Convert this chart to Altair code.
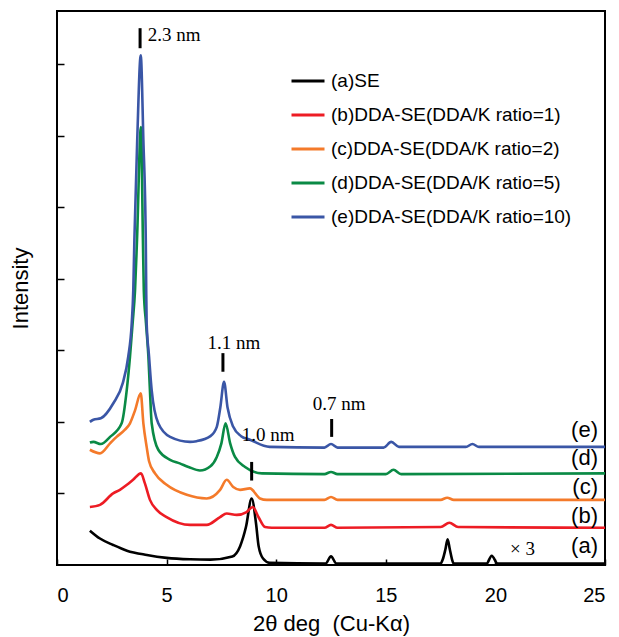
import altair as alt
import pandas as pd

series_names = ["(a)SE", "(b)DDA-SE(DDA/K ratio=1)", "(c)DDA-SE(DDA/K ratio=2)",
                "(d)DDA-SE(DDA/K ratio=5)", "(e)DDA-SE(DDA/K ratio=10)"]
series_colors = ["#000000", "#ED1C24", "#F47A2A", "#0A8A45", "#3A56A6"]

a_x = [1.5, 1.96, 2.56, 3.19, 4.1, 5.0, 6.07, 7.0, 8.0, 8.35, 8.62, 8.88, 9.08, 9.2, 9.4, 9.7,
       12.25, 12.5, 12.75, 17.5, 17.6, 17.72, 17.82, 17.92, 18.02, 18.1, 19.6, 19.83, 20.1, 25.0]
a_y = [0.48, 0.37, 0.28, 0.20, 0.14, 0.10, 0.08, 0.075, 0.12, 0.26, 0.53, 0.93, 0.58, 0.26, 0.09, 0.03,
       0.02, 0.12, 0.02, 0.02, 0.08, 0.22, 0.36, 0.22, 0.08, 0.02, 0.02, 0.13, 0.02, 0.02]

b_x = [1.5, 1.96, 2.56, 2.87, 3.19, 3.47, 3.83, 4.01, 4.24, 4.55, 5.0, 6.07, 6.83, 7.44, 7.74, 8.2,
       8.65, 8.93, 9.19, 9.49, 9.8, 12.2, 12.5, 12.8, 17.5, 17.9, 18.3, 25.0]
b_y = [0.81, 0.84, 1.0, 1.05, 1.12, 1.19, 1.28, 1.14, 0.91, 0.77, 0.67, 0.56, 0.56, 0.67, 0.72, 0.70,
       0.74, 0.81, 0.67, 0.53, 0.52, 0.52, 0.56, 0.52, 0.53, 0.59, 0.53, 0.52]

c_x = [1.5, 1.96, 2.42, 2.72, 3.10, 3.33, 3.56, 3.82, 3.94, 4.09, 4.2, 4.47, 5.0, 5.92, 6.83, 7.44,
       7.74, 8.04, 8.35, 8.8, 9.26, 9.57, 12.2, 12.5, 12.8, 17.5, 17.8, 18.1, 25.0]
c_y = [1.61, 1.56, 1.70, 1.79, 1.89, 1.98, 2.16, 2.40, 1.98, 1.65, 1.45, 1.28, 1.12, 0.98, 0.93, 1.05,
       1.19, 1.09, 1.05, 1.07, 0.93, 0.91, 0.91, 0.95, 0.91, 0.91, 0.94, 0.91, 0.91]

d_x = [1.5, 1.66, 2.0, 2.42, 2.95, 3.18, 3.33, 3.45, 3.56, 3.65, 3.83, 3.92, 3.96, 4.06, 4.17, 4.24,
       4.32, 4.62, 5.16, 5.6, 6.0, 6.52, 7.0, 7.29, 7.5, 7.69, 7.9, 8.12, 8.58, 9.35, 12.2, 12.5, 12.8,
       15.0, 15.35, 15.7, 25.0]
d_y = [1.71, 1.72, 1.69, 1.79, 1.98, 2.44, 2.91, 3.38, 3.84, 4.54, 6.12, 4.54, 3.84, 3.38, 2.91, 2.44,
       1.98, 1.61, 1.47, 1.42, 1.37, 1.32, 1.38, 1.51, 1.70, 1.98, 1.70, 1.51, 1.37, 1.28, 1.27, 1.30, 1.27,
       1.27, 1.33, 1.27, 1.28]

e_x = [1.5, 1.66, 2.0, 2.57, 3.0, 3.25, 3.41, 3.48, 3.53, 3.66, 3.82, 3.94, 4.05, 4.07, 4.09, 4.2,
       4.32, 4.62, 5.16, 6.07, 6.37, 7.0, 7.29, 7.45, 7.62, 7.78, 8.04, 8.4, 8.8, 9.7, 12.2, 12.5, 12.8,
       14.9, 15.25, 15.6, 18.65, 18.95, 19.25, 25.0]
e_y = [2.0, 2.03, 2.05, 2.26, 2.54, 2.91, 3.38, 3.84, 4.54, 5.94, 7.12, 5.94, 4.54, 3.84, 3.38, 2.91,
       2.44, 1.98, 1.79, 1.72, 1.73, 1.80, 1.93, 2.20, 2.56, 2.20, 1.93, 1.80, 1.75, 1.65, 1.64, 1.69, 1.64,
       1.64, 1.72, 1.65, 1.65, 1.69, 1.65, 1.65]

# annotation marks (d-spacing markers)
mark_x = [3.79, 7.57, 8.88, 12.53]
mark_y = [7.22, 2.70, 1.18, 1.79]
mark_y2 = [7.50, 2.96, 1.44, 2.04]

ann_text = ["2.3 nm", "1.1 nm", "1.0 nm", "0.7 nm", "× 3"]
ann_x = [5.34, 8.07, 9.63, 12.87, 21.24]
ann_y = [7.40, 3.10, 1.82, 2.25, 0.22]

lab_text = ["(a)", "(b)", "(c)", "(d)", "(e)"]
lab_y = [0.27, 0.69, 1.09, 1.49, 1.89]
lab_x = 24.68

rows = []
for name, xs, ys in zip(series_names, [a_x, b_x, c_x, d_x, e_x], [a_y, b_y, c_y, d_y, e_y]):
    for i, (xv, yv) in enumerate(zip(xs, ys)):
        rows.append({"deg": xv, "intensity": yv, "sample": name, "idx": i})
df = pd.DataFrame(rows)

xscale = alt.Scale(domain=[0, 25], nice=False, zero=False)
yscale = alt.Scale(domain=[0, 7.74], nice=False, zero=False)

axis_font = dict(labelFont="Liberation Sans", labelFontSize=20, labelColor="black",
                 titleFont="Liberation Sans", titleFontSize=22, titleFontWeight="normal",
                 titleColor="black", tickColor="black", tickWidth=1.5, domain=False, grid=False)

lines = alt.Chart(df).mark_line(strokeWidth=2.6, interpolate="monotone").encode(
    x=alt.X("deg:Q", scale=xscale,
            axis=alt.Axis(title="2θ deg\u00a0\u00a0(Cu-Kα)", values=[0, 5, 10, 15, 20, 25], offset=-6,
                          tickSize=6, labelPadding=20, titlePadding=8, **axis_font)),
    y=alt.Y("intensity:Q", scale=yscale,
            axis=alt.Axis(title="Intensity", values=[1, 2, 3, 4, 5, 6, 7], labels=False, offset=-7,
                          tickSize=7, titlePadding=24, **axis_font)),
    color=alt.Color("sample:N", scale=alt.Scale(domain=series_names, range=series_colors),
                    legend=alt.Legend(title=None, orient="none", legendX=233, legendY=52,
                                      symbolType="stroke", symbolSize=1089, symbolStrokeWidth=3,
                                      labelFontSize=19, labelFont="Liberation Sans", labelOffset=5,
                                      labelColor="black", rowPadding=6, padding=0, labelLimit=400)),
    order="idx:Q",
)

mk = pd.DataFrame({"x": mark_x, "y": mark_y, "y2": mark_y2})
markers = alt.Chart(mk).mark_rule(color="black", strokeWidth=3).encode(
    x=alt.X("x:Q", scale=xscale), y=alt.Y("y:Q", scale=yscale), y2="y2:Q")

ad = pd.DataFrame({"t": ann_text, "x": ann_x, "y": ann_y})
ann = alt.Chart(ad).mark_text(font="Liberation Serif", fontSize=19, color="black",
                              align="center", baseline="middle").encode(
    x=alt.X("x:Q", scale=xscale), y=alt.Y("y:Q", scale=yscale), text="t:N")

ld = pd.DataFrame({"t": lab_text, "x": [lab_x] * 5, "y": lab_y})
labs = alt.Chart(ld).mark_text(font="Liberation Sans", fontSize=22, color="black",
                               align="right", baseline="middle").encode(
    x=alt.X("x:Q", scale=xscale), y=alt.Y("y:Q", scale=yscale), text="t:N")

chart = alt.layer(lines, markers, ann, labs).properties(
    width=548, height=554,
    autosize=alt.AutoSizeParams(type="none"),
    padding={"left": 57, "top": 11, "right": 14, "bottom": 72},
    background="white",
).configure_view(stroke="black", strokeWidth=2)

chart.save("out.html", embed_options={"renderer": "svg", "actions": False})
